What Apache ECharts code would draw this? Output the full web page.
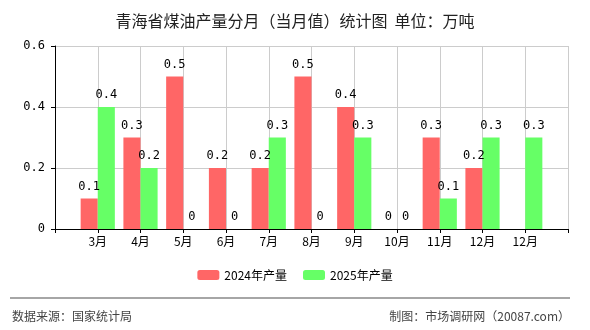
<!DOCTYPE html>
<html>
<head>
<meta charset="utf-8">
<script src="https://cdn.jsdelivr.net/npm/echarts@6/dist/echarts.min.js"></script>
<style>
  html, body { margin: 0; padding: 0; background: #fff; }
  #chart { width: 590px; height: 330px; }
</style>
</head>
<body>
<div id="chart"></div>
<script>
// 月份（两端留空位）
var months = ['', '3月', '4月', '5月', '6月', '7月', '8月', '9月', '10月', '11月', '12月', '12月', ''];
var output2024 = [null, 0.1, 0.3, 0.5, 0.2, 0.2, 0.5, 0.4, 0, 0.3, 0.2, null, null];
var output2025 = [null, 0.4, 0.2, 0, 0, 0.3, 0, 0.3, 0, 0.1, 0.3, 0.3, null];
var yTicks = [0, 0.2, 0.4, 0.6];

var font = '"Noto Sans CJK SC", "DejaVu Sans", sans-serif';
var mono = '"DejaVu Sans Mono", monospace';
var myChart = echarts.init(document.getElementById('chart'));

var option = {
    animation: false,
    textStyle: { fontFamily: font },
    title: {
        text: '青海省煤油产量分月（当月值）统计图  单位：万吨',
        left: 'center',
        top: 8,
        textStyle: { fontSize: 16, fontWeight: 'normal', color: '#222', fontFamily: font }
    },
    legend: {
        bottom: 44,
        left: 'center',
        itemWidth: 22,
        itemHeight: 10,
        itemGap: 16,
        textStyle: { fontSize: 12, color: '#000' },
        data: ['2024年产量', '2025年产量']
    },
    grid: {
        left: 55,
        right: 22,
        top: 46,
        bottom: 101
    },
    xAxis: {
        type: 'category',
        data: months,
        boundaryGap: false,
        axisLine: { lineStyle: { color: '#000' } },
        axisTick: { show: true, length: 4, lineStyle: { color: '#000' } },
        axisLabel: { interval: 0, color: '#000', fontSize: 12, margin: 6 },
        splitLine: { show: true, lineStyle: { color: '#cccccc' } }
    },
    yAxis: {
        type: 'value',
        min: yTicks[0],
        max: yTicks[yTicks.length - 1],
        interval: 0.2,
        axisLine: { show: true, lineStyle: { color: '#000' } },
        axisTick: { show: true, length: 4, lineStyle: { color: '#000' } },
        axisLabel: { color: '#000', fontSize: 12, margin: 10, fontFamily: mono },
        splitLine: { show: true, lineStyle: { color: '#cccccc' } }
    },
    series: [
        {
            name: '2024年产量',
            type: 'bar',
            data: output2024,
            barGap: 0,
            barCategoryGap: '20%',
            itemStyle: { color: '#ff6666' },
            label: { show: true, position: 'top', distance: 6, color: '#000', fontSize: 12, fontFamily: mono }
        },
        {
            name: '2025年产量',
            type: 'bar',
            data: output2025,
            barGap: 0,
            barCategoryGap: '20%',
            itemStyle: { color: '#66ff66' },
            label: { show: true, position: 'top', distance: 6, color: '#000', fontSize: 12, fontFamily: mono }
        }
    ],
    graphic: [
        {
            type: 'line',
            shape: { x1: 10, y1: 298, x2: 570, y2: 298 },
            style: { stroke: '#888', lineWidth: 1.5 }
        },
        {
            type: 'text',
            left: 12,
            top: 310,
            style: { text: '数据来源：国家统计局', fontSize: 12, fill: '#444', fontFamily: font }
        },
        {
            type: 'text',
            right: 20,
            top: 310,
            style: { text: '制图：市场调研网（20087.com）', fontSize: 12, fill: '#444', fontFamily: font }
        }
    ]
};

myChart.setOption(option);
</script>
</body>
</html>
